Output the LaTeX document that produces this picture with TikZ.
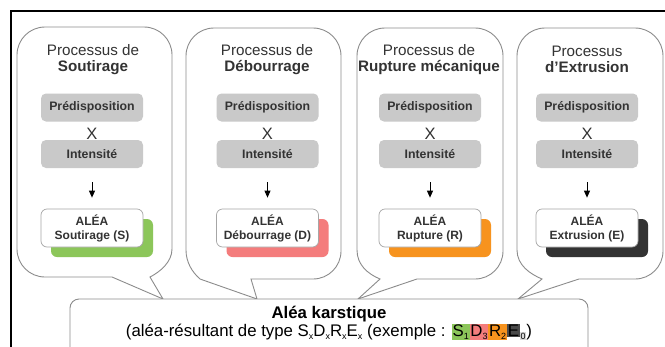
\documentclass[tikz,border=0pt]{standalone}
\usepackage{fontspec}
\setmainfont{Liberation Sans}
\usetikzlibrary{arrows.meta}
\definecolor{txt}{HTML}{333333}
\definecolor{bub}{HTML}{8C8C8C}
\definecolor{boxg}{HTML}{C9C9C9}
\definecolor{cS}{HTML}{8CC65A}
\definecolor{cD}{HTML}{F47C7C}
\definecolor{cR}{HTML}{F7931E}
\definecolor{cE}{HTML}{333333}
\definecolor{cEbg}{HTML}{4A4A4A}
\newcommand\ssub[1]{{\fontsize{9}{9}\selectfont\raisebox{-2.5pt}{#1}}}
\newcommand\hlbox[3]{{\setlength\fboxsep{0.8pt}\colorbox{#1}{#2\ssub{#3}}}}
\begin{document}
\begin{tikzpicture}[x=1pt,y=-1pt,
  bubble/.style={draw=bub, line width=0.9pt, fill=white},
  title/.style={align=center, text=txt, font=\fontsize{15.2}{16}\selectfont, inner sep=0},
  graybox/.style={fill=boxg, rounded corners=5pt, minimum width=102pt, minimum height=28pt, inner sep=0, text=txt, font=\bfseries\fontsize{12.3}{14}\selectfont},
  timesx/.style={text=txt, font=\fontsize{16.5}{16.5}\selectfont, inner sep=0},
  aleabox/.style={draw=gray!70, fill=white, rounded corners=6pt, line width=0.7pt, minimum width=102pt, minimum height=38pt, align=center, inner sep=0, text=txt, font=\bfseries\fontsize{12}{14}\selectfont},
  shadowbox/.style={rounded corners=6pt, minimum width=102pt, minimum height=38pt, inner sep=0},
  arr/.style={-{Triangle[length=7pt,width=6pt]}, line width=0.9pt, black, shorten <=14pt, shorten >=11pt}
]
\useasboundingbox (0,0) rectangle (665,346);
\fill[white] (0,0) rectangle (665,346);
% outer frame
\draw[line width=1.4pt, black] (11,11) rectangle (668,400);

% bubbles
\draw[bubble] (112,277) -- (45,277) .. controls (29.5,277) and (17,264.5) .. (17,249)
  -- (17,55) .. controls (17,39.5) and (29.5,27) .. (45,27)
  -- (144,27) .. controls (159.5,27) and (172,39.5) .. (172,55)
  -- (172,249) .. controls (172,262) and (160,272) .. (150,277)
  -- (163,299) -- cycle;
\draw[bubble] (251,279) -- (313,279) .. controls (328.5,279) and (341,266.5) .. (341,251)
  -- (341,56) .. controls (341,40.5) and (328.5,28) .. (313,28)
  -- (214,28) .. controls (198.5,28) and (186,40.5) .. (186,56)
  -- (186,250) .. controls (186,262) and (192,272) .. (200,279)
  -- (257,299) -- cycle;
\draw[bubble] (417,279) -- (475,279) .. controls (490.5,279) and (503,266.5) .. (503,251)
  -- (503,56) .. controls (503,40.5) and (490.5,28) .. (475,28)
  -- (385,28) .. controls (369.5,28) and (357,40.5) .. (357,56)
  -- (357,250) .. controls (357,265) and (368,274) .. (380,279)
  -- (358,299) -- cycle;
\draw[bubble] (579,279) -- (635,279) .. controls (650.5,279) and (663,266.5) .. (663,251)
  -- (663,56) .. controls (663,40.5) and (650.5,28) .. (635,28)
  -- (545,28) .. controls (529.5,28) and (517,40.5) .. (517,56)
  -- (517,250) .. controls (517,265) and (530,274) .. (542,279)
  -- (518,299) -- cycle;

% bottom box
\node[draw=bub, line width=0.9pt, fill=white, rounded corners=9pt, minimum width=518pt, minimum height=70pt, inner sep=0] (res) at (329,334) {};
\node[text=black, font=\bfseries\fontsize{16.8}{18}\selectfont, inner sep=0] (restitle) at (329,314) {Aléa karstique};
\node[text=black, font=\fontsize{16.8}{18}\selectfont, inner sep=0] (resline) at (329,332)
  {(aléa-résultant de type S\ssub{x}D\ssub{x}R\ssub{x}E\ssub{x} (exemple : \hlbox{cS}{S}{1}\hlbox{cD}{D}{3}\hlbox{cR}{R}{2}{\setlength\fboxsep{0.8pt}\colorbox{cEbg}{\textcolor{black}{E}}\colorbox{white!85!black}{\ssub{0}}})};

% column contents
\foreach \n/\cx/\tx/\lineA/\lineB/\lbl/\col in {
  1/92/93/{Processus de}/{Soutirage}/{Soutirage (S)}/cS,
  2/267.5/267/{Processus de}/{Débourrage}/{Débourrage (D)}/cD,
  3/430/429/{Processus de}/{Rupture mécanique}/{Rupture (R)}/cR,
  4/587/587/{Processus}/{d'Extrusion}/{Extrusion (E)}/cE} {
  \node[title] (title\n) at (\tx,59.5) {\lineA\\\textbf{\lineB}};
  \node[graybox] (pred\n) at (\cx,107.5) {Prédisposition};
  \node[timesx] (x\n) at (\cx,133.5) {X};
  \node[graybox] (int\n) at (\cx,154) {Intensité};
  \node[shadowbox, fill=\col] (sh\n) at (\cx+10,238) {};
  \node[aleabox] (alea\n) at (\cx,228) {ALÉA\\\lbl};
  \draw[arr] (int\n) -- (alea\n);
}
\end{tikzpicture}
\end{document}
